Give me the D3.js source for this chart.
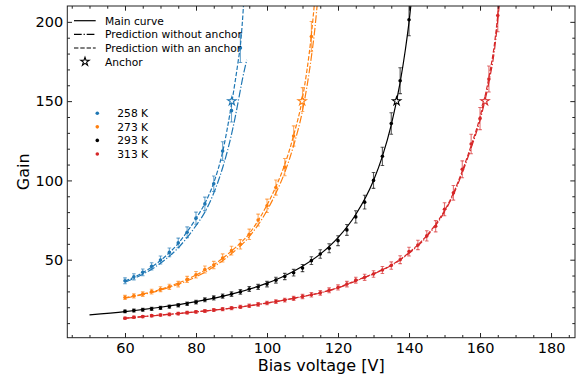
<!DOCTYPE html>
<html>
<head>
<meta charset="utf-8">
<script src="https://cdn.jsdelivr.net/npm/d3@7"></script>
<style>
  body { margin: 0; background: #fff; }
  text { font-family: "DejaVu Sans", sans-serif; }
</style>
</head>
<body>
<div id="chart"></div>
<script>
// ---- data ----
const temps = ["258 K", "273 K", "293 K", "313 K"];
const colors = ["#1f77b4", "#ff7f0e", "#000000", "#d62728"];

const v258 = [60, 62.5, 65, 67.5, 70, 72.5, 75, 77.5, 80, 82.5, 85, 87.5, 90, 92.5];
const g258 = [36.7, 39.2, 42.0, 45.8, 49.8, 54.6, 60.6, 67.3, 76.2, 85.2, 97.9, 118.5, 144, 183.5];

const v273 = [60, 62.5, 65, 67.5, 70, 72.5, 75, 77.5, 80, 82.5, 85, 87.5, 90, 92.5, 95, 97.5,
              100, 102.5, 105, 107.5, 110, 112.5];
const g273 = [26.2, 27.2, 28.3, 29.9, 31.4, 32.9, 34.6, 37.6, 40.5, 43.8, 46.6, 51.1, 55.7, 59.7, 66, 75,
              84, 95.5, 108.4, 128, 151, 190.7];

const v293 = [60, 62.5, 65, 67.5, 70, 72.5, 75, 77.5, 80, 82.5, 85, 87.5, 90, 92.5, 95, 97.5,
              100, 102.5, 105, 107.5, 110, 112.5, 115, 117.5, 120, 122.5, 125, 127.5, 130, 132.5, 135, 137.5, 140];
const g293 = [17.4, 17.9, 18.4, 19.0, 19.6, 20.4, 21.3, 22.2, 23.2, 24.7, 25.9, 27.0, 28.3, 29.7, 31.5, 32.8,
              34.6, 37.1, 39.4, 41.8, 44.7, 49.4, 53.6, 57.2, 62.0, 68.8, 77.0, 86.3, 100, 115.2, 135.9, 162.9, 201.3];

const v313 = [60, 62.5, 65, 67.5, 70, 72.5, 75, 77.5, 80, 82.5, 85, 87.5, 90, 92.5, 95, 97.5,
              100, 102.5, 105, 107.5, 110, 112.5, 115, 117.5, 120, 122.5, 125, 127.5, 130, 132.5, 135, 137.5,
              140, 142.5, 145, 147.5, 150, 152.5, 155, 157.5, 160, 162.5, 165];
const g313 = [13.1, 13.7, 14.1, 14.7, 15.1, 15.5, 16.0, 16.6, 17.1, 17.6, 18.2, 18.8, 19.5, 20.2, 20.9, 21.8,
              22.7, 23.6, 24.5, 25.6, 26.8, 27.9, 29.1, 30.7, 32.5, 34.6, 37.1, 38.9, 41.0, 43.5, 46.3, 50.0,
              55.1, 59.3, 65.0, 71.1, 81.8, 92.2, 107, 123, 139, 164, 204];

const relErr = 0.05; // error bars are about 5 % of the gain

// main curve (293 K)
const mainV = [50, 60, 70, 80, 90, 100, 105, 110, 115, 120, 125, 130, 132.5, 135, 137.5, 139, 140, 140.6];
const mainG = [15.2, 17.3, 20.0, 23.5, 28.3, 35.2, 39.9, 45.9, 53.5, 63.9, 78.5, 100, 115.2, 135, 161.8, 182.9, 199.8, 211.9];

// prediction with an anchor (dashed)
const withV258 = [60, 65, 70, 75, 80, 82.5, 85, 87.5, 90, 91, 92, 92.5, 93, 93.6];
const withG258 = [36.5, 41.8, 49.5, 60.3, 76, 85.5, 98.5, 118, 148, 162, 177, 185, 198, 218];
const withV273 = [60, 70, 80, 85, 90, 95, 100, 102.5, 105, 107.5, 110, 112.5, 113.5];
const withG273 = [26, 31.3, 40.3, 46.8, 55.5, 66.5, 84.5, 96, 110, 128.5, 152, 192, 215];
const withV313 = [60, 70, 80, 90, 100, 110, 115, 120, 125, 130, 135, 140, 145, 150, 152.5, 155, 157.5, 160, 162.5, 164, 165.5];
const withG313 = [13.1, 15.1, 17.1, 19.5, 22.7, 26.8, 29.2, 32.4, 36.8, 41.2, 46.6, 54.5, 65.3, 81, 92, 106, 122, 140, 165, 185, 215];

// prediction without anchor (dash-dot)
const noV258 = [60, 65, 70, 75, 80, 82.5, 85, 87.5, 90, 91, 92, 93, 94.3];
const noG258 = [35.8, 40.8, 47.8, 57.5, 71.5, 80, 92, 108, 129, 139.5, 151, 163, 176];
const noV273 = [60, 70, 80, 85, 90, 95, 100, 102.5, 105, 107.5, 110, 112.5, 113.5, 114.3];
const noG273 = [25.7, 30.8, 39.2, 45.5, 53.8, 64.5, 81, 92, 105, 122, 144, 178, 196, 215];
const noV313 = [60, 70, 80, 90, 100, 110, 115, 120, 125, 130, 135, 140, 145, 150, 152.5, 155, 157.5, 160, 162.5, 164, 165.6];
const noG313 = [13.05, 15.05, 17.05, 19.4, 22.6, 26.7, 29.0, 32.2, 36.5, 41.0, 46.3, 54.0, 64.6, 80.2, 91, 104.8, 120.5, 138, 162, 181, 215];

// anchors
const anchorV = [90.1, 109.9, 136.5, 161.4];
const anchorG = [150, 150, 150, 150];

const xTicks = [60, 80, 100, 120, 140, 160, 180];
const yTicks = [50, 100, 150, 200];

// ---- layout ----
const width = 585, height = 379;
const pLeft = 67.3, pRight = 575, pTop = 6, pBottom = 337.7;

const svg = d3.select("#chart").append("svg")
    .attr("width", width)
    .attr("height", height);

const x = d3.scaleLinear().domain([43.75, 186.75]).range([pLeft, pRight]);
const y = d3.scaleLinear().domain([0.8, 210]).range([pBottom, pTop]);

svg.append("clipPath").attr("id", "clip")
  .append("rect")
    .attr("x", pLeft).attr("y", pTop)
    .attr("width", pRight - pLeft).attr("height", pBottom - pTop);

const plot = svg.append("g").attr("clip-path", "url(#clip)");

const zip = (vs, gs) => vs.map((v, i) => [v, gs[i]]);
const line = d3.line()
    .x(d => x(d[0]))
    .y(d => y(d[1]))
    .curve(d3.curveMonotoneX);

const dashed = "4.4,1.9";
const dashdot = "7.7,1.9,1.2,1.9";

const preds = [
  { c: colors[0], withA: zip(withV258, withG258), noA: zip(noV258, noG258) },
  { c: colors[1], withA: zip(withV273, withG273), noA: zip(noV273, noG273) },
  { c: colors[3], withA: zip(withV313, withG313), noA: zip(noV313, noG313) }
];

preds.forEach(p => {
  plot.append("path").datum(p.noA)
      .attr("d", line).attr("fill", "none")
      .attr("stroke", p.c).attr("stroke-width", 1.2)
      .attr("stroke-dasharray", dashdot);
  plot.append("path").datum(p.withA)
      .attr("d", line).attr("fill", "none")
      .attr("stroke", p.c).attr("stroke-width", 1.2)
      .attr("stroke-dasharray", dashed);
});

plot.append("path").datum(zip(mainV, mainG))
    .attr("d", line).attr("fill", "none")
    .attr("stroke", "#000").attr("stroke-width", 1.2);

// points with error bars
const series = [zip(v258, g258), zip(v273, g273), zip(v293, g293), zip(v313, g313)];

series.forEach((pts, i) => {
  const g = plot.append("g");
  const eb = g.selectAll(".eb").data(pts).enter().append("g")
      .attr("stroke", colors[i])
      .attr("stroke-opacity", 0.65)
      .attr("stroke-width", 1.1);
  eb.append("line")
      .attr("x1", d => x(d[0])).attr("x2", d => x(d[0]))
      .attr("y1", d => y(d[1] * (1 - relErr))).attr("y2", d => y(d[1] * (1 + relErr)));
  eb.append("line")
      .attr("x1", d => x(d[0]) - 1.8).attr("x2", d => x(d[0]) + 1.8)
      .attr("y1", d => y(d[1] * (1 - relErr))).attr("y2", d => y(d[1] * (1 - relErr)));
  eb.append("line")
      .attr("x1", d => x(d[0]) - 1.8).attr("x2", d => x(d[0]) + 1.8)
      .attr("y1", d => y(d[1] * (1 + relErr))).attr("y2", d => y(d[1] * (1 + relErr)));
  g.selectAll("circle").data(pts).enter().append("circle")
      .attr("cx", d => x(d[0]))
      .attr("cy", d => y(d[1]))
      .attr("r", 1.8)
      .attr("fill", colors[i]);
});

const star = d3.symbol().type(d3.symbolStar).size(22);
plot.selectAll(".anchor").data(anchorV).enter().append("path")
    .attr("transform", (d, i) => `translate(${x(d)},${y(anchorG[i])})`)
    .attr("d", star)
    .attr("fill", "white")
    .attr("stroke", (d, i) => colors[i])
    .attr("stroke-width", 1.1);

// ---- axes (ticks inward on all four sides) ----
const minorX = d3.range(45, 186, 5).filter(v => v % 20 !== 0);
const minorY = d3.range(10, 210, 10).filter(v => v % 50 !== 0);

function styleAxis(g) {
  g.select(".domain").remove();
  g.selectAll(".tick line").attr("stroke", "#222").attr("stroke-width", 1);
  g.selectAll(".tick text").attr("fill", "#000")
      .style("font-size", "14.5px")
      .style("font-family", "DejaVu Sans, sans-serif");
}

svg.append("g").attr("transform", `translate(0,${pBottom})`)
    .call(d3.axisBottom(x).tickValues(xTicks).tickSize(-4.7).tickPadding(5.5))
    .call(styleAxis);
svg.append("g").attr("transform", `translate(0,${pBottom})`)
    .call(d3.axisBottom(x).tickValues(minorX).tickSize(-2.7).tickFormat(""))
    .call(styleAxis);
svg.append("g").attr("transform", `translate(0,${pTop})`)
    .call(d3.axisTop(x).tickValues(xTicks).tickSize(-4.7).tickFormat(""))
    .call(styleAxis);
svg.append("g").attr("transform", `translate(0,${pTop})`)
    .call(d3.axisTop(x).tickValues(minorX).tickSize(-2.7).tickFormat(""))
    .call(styleAxis);

svg.append("g").attr("transform", `translate(${pLeft},0)`)
    .call(d3.axisLeft(y).tickValues(yTicks).tickSize(-4.7).tickPadding(4))
    .call(styleAxis);
svg.append("g").attr("transform", `translate(${pLeft},0)`)
    .call(d3.axisLeft(y).tickValues(minorY).tickSize(-2.7).tickFormat(""))
    .call(styleAxis);
svg.append("g").attr("transform", `translate(${pRight},0)`)
    .call(d3.axisRight(y).tickValues(yTicks).tickSize(-4.7).tickFormat(""))
    .call(styleAxis);
svg.append("g").attr("transform", `translate(${pRight},0)`)
    .call(d3.axisRight(y).tickValues(minorY).tickSize(-2.7).tickFormat(""))
    .call(styleAxis);

svg.append("rect")
    .attr("x", pLeft).attr("y", pTop)
    .attr("width", pRight - pLeft).attr("height", pBottom - pTop)
    .attr("fill", "none").attr("stroke", "#222").attr("stroke-width", 1);

svg.append("text")
    .attr("x", (pLeft + pRight) / 2).attr("y", 371)
    .attr("text-anchor", "middle")
    .style("font-size", "16px")
    .text("Bias voltage [V]");

svg.append("text")
    .attr("transform", `translate(28.5,${(pTop + pBottom) / 2}) rotate(-90)`)
    .attr("text-anchor", "middle")
    .style("font-size", "16px")
    .text("Gain");

// ---- legends ----
const lineLegend = [
  { label: "Main curve", dash: null },
  { label: "Prediction without anchor", dash: dashdot },
  { label: "Prediction with an anchor", dash: dashed },
  { label: "Anchor", star: true }
];
const leg1 = svg.append("g");
lineLegend.forEach((d, i) => {
  const yy = 20.7 + i * 13.65;
  if (d.star) {
    leg1.append("path")
        .attr("transform", `translate(85,${yy})`)
        .attr("d", star)
        .attr("fill", "white").attr("stroke", "#000").attr("stroke-width", 1.1);
  } else {
    leg1.append("line")
        .attr("x1", 74).attr("x2", 95.7).attr("y1", yy).attr("y2", yy)
        .attr("stroke", "#000").attr("stroke-width", 1.2)
        .attr("stroke-dasharray", d.dash);
  }
  leg1.append("text")
      .attr("x", 105).attr("y", yy).attr("dy", "0.36em")
      .style("font-size", "10.7px")
      .text(d.label);
});

const leg2 = svg.append("g");
temps.forEach((t, i) => {
  const yy = 113.3 + i * 13.55;
  leg2.append("circle")
      .attr("cx", 97.3).attr("cy", yy).attr("r", 1.8)
      .attr("fill", colors[i]);
  leg2.append("text")
      .attr("x", 117.3).attr("y", yy).attr("dy", "0.36em")
      .style("font-size", "10.7px")
      .text(t);
});
</script>
</body>
</html>
